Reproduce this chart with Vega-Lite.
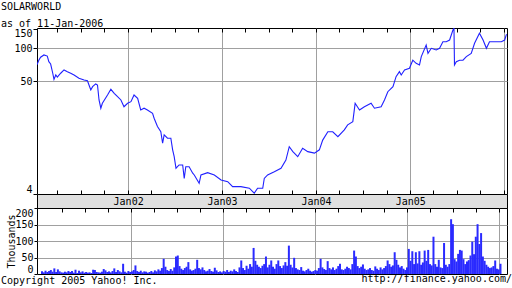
{
"$schema": "https://vega.github.io/schema/vega-lite/v6.json",
"padding": {"left": 0, "top": 1, "right": 0, "bottom": 0},
"background": "white",
"bounds": "flush",
"spacing": 0,
"config": {
  "font": "DejaVu Sans Mono",
  "axis": {"labelFont": "DejaVu Sans Mono", "labelFontSize": 10, "labelColor": "black", "titleFont": "DejaVu Sans Mono", "titleFontSize": 10, "titleFontWeight": "normal", "titleColor": "black", "tickColor": "black", "gridColor": "#a0a0a0", "domain": false, "labelOverlap": false},
  "title": {"font": "DejaVu Sans Mono", "fontSize": 10, "fontWeight": "normal", "color": "black", "subtitleFont": "DejaVu Sans Mono", "subtitleFontSize": 10, "subtitleColor": "black", "subtitleFontWeight": "normal"},
  "view": {"stroke": "black"}
},
"title": {"text": "http://finance.yahoo.com/", "orient": "bottom", "anchor": "end", "frame": "bounds", "offset": 0, "dy": -12, "dx": 2},
"datasets": {
"price": [
{"d":"2001-01-12","p":71},{"d":"2001-01-19","p":78},{"d":"2001-01-26","p":83},{"d":"2001-02-08","p":87},{"d":"2001-02-21","p":85},{"d":"2001-02-27","p":75.6},{"d":"2001-03-06","p":72},{"d":"2001-03-14","p":59.7},{"d":"2001-03-19","p":52.3},{"d":"2001-03-26","p":57.3},{"d":"2001-04-01","p":54.9},{"d":"2001-04-14","p":59.4},{"d":"2001-04-27","p":63.6},{"d":"2001-05-10","p":61.4},{"d":"2001-05-23","p":59.4},{"d":"2001-06-05","p":57.3},{"d":"2001-06-24","p":53.5},{"d":"2001-07-14","p":51.6},{"d":"2001-07-27","p":50.8},{"d":"2001-08-02","p":46.5},{"d":"2001-08-09","p":41.9},{"d":"2001-08-16","p":44.9},{"d":"2001-08-28","p":47.5},{"d":"2001-09-04","p":46.5},{"d":"2001-09-10","p":34},{"d":"2001-09-17","p":28.6},{"d":"2001-09-23","p":31.7},{"d":"2001-10-13","p":37.7},{"d":"2001-10-26","p":42.5},{"d":"2001-11-08","p":39.1},{"d":"2001-11-21","p":36.4},{"d":"2001-12-04","p":34},{"d":"2001-12-16","p":29.5},{"d":"2001-12-30","p":31.7},
{"d":"2002-01-12","p":32.8},{"d":"2002-01-24","p":37.7},{"d":"2002-02-07","p":35.2},{"d":"2002-02-19","p":27.6},{"d":"2002-03-04","p":28.6},{"d":"2002-03-17","p":27.6},{"d":"2002-04-06","p":25.7},{"d":"2002-04-12","p":23.2},{"d":"2002-04-25","p":19.5},{"d":"2002-05-08","p":17.5},{"d":"2002-05-15","p":13.8},{"d":"2002-05-21","p":16.4},{"d":"2002-06-03","p":15.3},{"d":"2002-06-16","p":15.3},{"d":"2002-06-23","p":12.0},{"d":"2002-06-29","p":10.4},{"d":"2002-07-06","p":8.17},{"d":"2002-07-18","p":8.75},{"d":"2002-08-01","p":8.75},{"d":"2002-08-07","p":6.6},{"d":"2002-08-13","p":8.44},{"d":"2002-08-26","p":8.44},{"d":"2002-09-09","p":7.36},{"d":"2002-09-15","p":7.1},{"d":"2002-10-04","p":5.97},{"d":"2002-10-11","p":7.1},{"d":"2002-11-06","p":7.45},{"d":"2002-12-02","p":7.1},{"d":"2002-12-28","p":6.4},
{"d":"2003-01-23","p":6.17},{"d":"2003-02-11","p":5.56},{"d":"2003-03-15","p":5.56},{"d":"2003-04-17","p":5.38},{"d":"2003-05-06","p":4.85},{"d":"2003-05-19","p":5.38},{"d":"2003-06-08","p":5.38},{"d":"2003-06-14","p":6.6},{"d":"2003-06-27","p":7.1},{"d":"2003-07-23","p":7.6},{"d":"2003-08-18","p":8.17},{"d":"2003-09-06","p":9.7},{"d":"2003-09-19","p":12.8},{"d":"2003-10-03","p":11.55},{"d":"2003-10-22","p":10.4},{"d":"2003-11-10","p":12.4},{"d":"2003-11-30","p":11.55},{"d":"2003-12-26","p":11.2},
{"d":"2004-01-14","p":12.0},{"d":"2004-01-27","p":14.7},{"d":"2004-02-16","p":17.5},{"d":"2004-03-06","p":17.5},{"d":"2004-03-26","p":15.8},{"d":"2004-04-20","p":18.2},{"d":"2004-05-03","p":20.2},{"d":"2004-05-23","p":21.6},{"d":"2004-06-01","p":31.7},{"d":"2004-06-18","p":27.6},{"d":"2004-07-07","p":29.5},{"d":"2004-08-02","p":31.7},{"d":"2004-08-15","p":28.6},{"d":"2004-09-10","p":29.5},{"d":"2004-09-23","p":34},{"d":"2004-10-06","p":40.4},{"d":"2004-10-26","p":44.9},{"d":"2004-11-07","p":55.3},{"d":"2004-11-20","p":61.4},{"d":"2004-11-27","p":57.3},{"d":"2004-12-10","p":63.6},{"d":"2004-12-29","p":65.9},
{"d":"2005-01-11","p":78},{"d":"2005-01-24","p":73},{"d":"2005-02-06","p":70.6},{"d":"2005-02-13","p":84},{"d":"2005-03-04","p":107},{"d":"2005-03-11","p":90},{"d":"2005-03-24","p":100},{"d":"2005-04-12","p":96.5},{"d":"2005-04-25","p":100},{"d":"2005-05-08","p":114.8},{"d":"2005-05-21","p":114.8},{"d":"2005-06-03","p":118.9},{"d":"2005-06-16","p":146.5},{"d":"2005-06-20","p":151.8},{"d":"2005-06-22","p":70.6},{"d":"2005-06-29","p":75.6},{"d":"2005-07-12","p":78},{"d":"2005-07-25","p":78},{"d":"2005-08-07","p":84},{"d":"2005-08-26","p":90},{"d":"2005-09-08","p":111},{"d":"2005-09-27","p":136.8},{"d":"2005-10-11","p":118.9},{"d":"2005-10-24","p":100},{"d":"2005-11-05","p":114.8},{"d":"2005-12-01","p":114.8},{"d":"2005-12-21","p":114.8},{"d":"2006-01-03","p":118.9},{"d":"2006-01-09","p":132},{"d":"2006-01-11","p":134}
],
"vol": [
{"d":"2001-01-12","v":8},{"d":"2001-01-19","v":5},{"d":"2001-01-26","v":10},{"d":"2001-02-02","v":6},{"d":"2001-02-09","v":9},{"d":"2001-02-16","v":12},{"d":"2001-02-23","v":7},{"d":"2001-03-02","v":17},{"d":"2001-03-09","v":6},{"d":"2001-03-16","v":14},{"d":"2001-03-23","v":8},{"d":"2001-03-30","v":5},{"d":"2001-04-06","v":4},{"d":"2001-04-13","v":7},{"d":"2001-04-20","v":5},{"d":"2001-04-27","v":9},{"d":"2001-05-04","v":6},{"d":"2001-05-11","v":9},{"d":"2001-05-18","v":4},{"d":"2001-05-25","v":13},{"d":"2001-06-01","v":3},{"d":"2001-06-08","v":10},{"d":"2001-06-15","v":5},{"d":"2001-06-22","v":8},{"d":"2001-06-29","v":4},{"d":"2001-07-06","v":6},{"d":"2001-07-13","v":4},{"d":"2001-07-20","v":5},{"d":"2001-07-27","v":3},{"d":"2001-08-03","v":13},{"d":"2001-08-10","v":12},{"d":"2001-08-17","v":6},{"d":"2001-08-24","v":5},{"d":"2001-08-31","v":4},{"d":"2001-09-07","v":7},{"d":"2001-09-14","v":15},{"d":"2001-09-21","v":11},{"d":"2001-09-28","v":6},{"d":"2001-10-05","v":8},{"d":"2001-10-12","v":5},{"d":"2001-10-19","v":9},{"d":"2001-10-26","v":17},{"d":"2001-11-02","v":6},{"d":"2001-11-09","v":12},{"d":"2001-11-16","v":8},{"d":"2001-11-23","v":5},{"d":"2001-11-30","v":31},{"d":"2001-12-07","v":7},{"d":"2001-12-14","v":4},{"d":"2001-12-21","v":9},{"d":"2001-12-28","v":6},
{"d":"2002-01-04","v":8},{"d":"2002-01-11","v":12},{"d":"2002-01-18","v":26},{"d":"2002-01-25","v":9},{"d":"2002-02-01","v":6},{"d":"2002-02-08","v":10},{"d":"2002-02-15","v":5},{"d":"2002-02-22","v":8},{"d":"2002-03-01","v":7},{"d":"2002-03-08","v":4},{"d":"2002-03-15","v":6},{"d":"2002-03-22","v":9},{"d":"2002-03-29","v":5},{"d":"2002-04-05","v":11},{"d":"2002-04-12","v":8},{"d":"2002-04-19","v":14},{"d":"2002-04-26","v":10},{"d":"2002-05-03","v":18},{"d":"2002-05-10","v":46},{"d":"2002-05-17","v":22},{"d":"2002-05-24","v":12},{"d":"2002-05-31","v":9},{"d":"2002-06-07","v":15},{"d":"2002-06-14","v":10},{"d":"2002-06-21","v":20},{"d":"2002-06-28","v":53},{"d":"2002-07-05","v":56},{"d":"2002-07-12","v":24},{"d":"2002-07-19","v":16},{"d":"2002-07-26","v":12},{"d":"2002-08-02","v":18},{"d":"2002-08-09","v":22},{"d":"2002-08-16","v":36},{"d":"2002-08-23","v":14},{"d":"2002-08-30","v":10},{"d":"2002-09-06","v":12},{"d":"2002-09-13","v":16},{"d":"2002-09-20","v":43},{"d":"2002-09-27","v":18},{"d":"2002-10-04","v":14},{"d":"2002-10-11","v":20},{"d":"2002-10-18","v":12},{"d":"2002-10-25","v":8},{"d":"2002-11-01","v":10},{"d":"2002-11-08","v":15},{"d":"2002-11-15","v":9},{"d":"2002-11-22","v":7},{"d":"2002-11-29","v":19},{"d":"2002-12-06","v":11},{"d":"2002-12-13","v":6},{"d":"2002-12-20","v":8},{"d":"2002-12-27","v":5},
{"d":"2003-01-03","v":9},{"d":"2003-01-10","v":7},{"d":"2003-01-17","v":12},{"d":"2003-01-24","v":6},{"d":"2003-01-31","v":10},{"d":"2003-02-07","v":8},{"d":"2003-02-14","v":14},{"d":"2003-02-21","v":9},{"d":"2003-02-28","v":6},{"d":"2003-03-07","v":20},{"d":"2003-03-14","v":41},{"d":"2003-03-21","v":18},{"d":"2003-03-28","v":12},{"d":"2003-04-04","v":25},{"d":"2003-04-11","v":16},{"d":"2003-04-18","v":30},{"d":"2003-04-25","v":22},{"d":"2003-05-02","v":79},{"d":"2003-05-09","v":40},{"d":"2003-05-16","v":28},{"d":"2003-05-23","v":22},{"d":"2003-05-30","v":18},{"d":"2003-06-06","v":25},{"d":"2003-06-13","v":30},{"d":"2003-06-20","v":53},{"d":"2003-06-27","v":20},{"d":"2003-07-04","v":28},{"d":"2003-07-11","v":41},{"d":"2003-07-18","v":22},{"d":"2003-07-25","v":16},{"d":"2003-08-01","v":30},{"d":"2003-08-08","v":41},{"d":"2003-08-15","v":24},{"d":"2003-08-22","v":18},{"d":"2003-08-29","v":26},{"d":"2003-09-05","v":36},{"d":"2003-09-12","v":25},{"d":"2003-09-19","v":86},{"d":"2003-09-26","v":28},{"d":"2003-10-03","v":20},{"d":"2003-10-10","v":49},{"d":"2003-10-17","v":18},{"d":"2003-10-24","v":14},{"d":"2003-10-31","v":12},{"d":"2003-11-07","v":21},{"d":"2003-11-14","v":10},{"d":"2003-11-21","v":8},{"d":"2003-11-28","v":12},{"d":"2003-12-05","v":16},{"d":"2003-12-12","v":10},{"d":"2003-12-19","v":7},{"d":"2003-12-26","v":9},
{"d":"2004-01-02","v":12},{"d":"2004-01-09","v":10},{"d":"2004-01-16","v":18},{"d":"2004-01-23","v":46},{"d":"2004-01-30","v":20},{"d":"2004-02-06","v":15},{"d":"2004-02-13","v":12},{"d":"2004-02-20","v":39},{"d":"2004-02-27","v":18},{"d":"2004-03-05","v":14},{"d":"2004-03-12","v":20},{"d":"2004-03-19","v":12},{"d":"2004-03-26","v":16},{"d":"2004-04-02","v":24},{"d":"2004-04-09","v":31},{"d":"2004-04-16","v":14},{"d":"2004-04-23","v":12},{"d":"2004-04-30","v":16},{"d":"2004-05-07","v":22},{"d":"2004-05-14","v":18},{"d":"2004-05-21","v":14},{"d":"2004-05-28","v":30},{"d":"2004-06-04","v":71},{"d":"2004-06-11","v":53},{"d":"2004-06-18","v":24},{"d":"2004-06-25","v":18},{"d":"2004-07-02","v":22},{"d":"2004-07-09","v":29},{"d":"2004-07-16","v":16},{"d":"2004-07-23","v":12},{"d":"2004-07-30","v":14},{"d":"2004-08-06","v":18},{"d":"2004-08-13","v":12},{"d":"2004-08-20","v":10},{"d":"2004-08-27","v":23},{"d":"2004-09-03","v":16},{"d":"2004-09-10","v":12},{"d":"2004-09-17","v":20},{"d":"2004-09-24","v":14},{"d":"2004-10-01","v":18},{"d":"2004-10-08","v":24},{"d":"2004-10-15","v":41},{"d":"2004-10-22","v":30},{"d":"2004-10-29","v":22},{"d":"2004-11-05","v":26},{"d":"2004-11-12","v":66},{"d":"2004-11-19","v":43},{"d":"2004-11-26","v":28},{"d":"2004-12-03","v":20},{"d":"2004-12-10","v":24},{"d":"2004-12-17","v":16},{"d":"2004-12-24","v":12},{"d":"2004-12-31","v":20},
{"d":"2005-01-07","v":76},{"d":"2005-01-14","v":40},{"d":"2005-01-21","v":69},{"d":"2005-01-28","v":30},{"d":"2005-02-04","v":66},{"d":"2005-02-11","v":32},{"d":"2005-02-18","v":69},{"d":"2005-02-25","v":28},{"d":"2005-03-04","v":35},{"d":"2005-03-11","v":71},{"d":"2005-03-18","v":40},{"d":"2005-03-25","v":73},{"d":"2005-04-01","v":30},{"d":"2005-04-08","v":26},{"d":"2005-04-15","v":113},{"d":"2005-04-22","v":30},{"d":"2005-04-29","v":22},{"d":"2005-05-06","v":43},{"d":"2005-05-13","v":20},{"d":"2005-05-20","v":18},{"d":"2005-05-27","v":94},{"d":"2005-06-03","v":28},{"d":"2005-06-10","v":22},{"d":"2005-06-17","v":30},{"d":"2005-06-24","v":166},{"d":"2005-07-01","v":151},{"d":"2005-07-08","v":45},{"d":"2005-07-15","v":38},{"d":"2005-07-22","v":61},{"d":"2005-07-29","v":73},{"d":"2005-08-05","v":71},{"d":"2005-08-12","v":45},{"d":"2005-08-19","v":30},{"d":"2005-08-26","v":38},{"d":"2005-09-02","v":42},{"d":"2005-09-09","v":56},{"d":"2005-09-16","v":98},{"d":"2005-09-23","v":60},{"d":"2005-09-30","v":113},{"d":"2005-10-07","v":151},{"d":"2005-10-14","v":91},{"d":"2005-10-21","v":124},{"d":"2005-10-28","v":53},{"d":"2005-11-04","v":40},{"d":"2005-11-11","v":28},{"d":"2005-11-18","v":22},{"d":"2005-11-25","v":18},{"d":"2005-12-02","v":20},{"d":"2005-12-09","v":24},{"d":"2005-12-16","v":41},{"d":"2005-12-23","v":16},{"d":"2005-12-30","v":14},{"d":"2006-01-06","v":31}
]
},
"vconcat": [
{
  "width": 470, "height": 166,
  "title": {"text": "SOLARWORLD", "subtitle": "as of 11-Jan-2006", "subtitlePadding": 7, "anchor": "start", "frame": "group", "dx": -36, "offset": -1},
  "data": {"name": "price"},
  "mark": {"type": "line", "color": "#2020ff", "strokeWidth": 1.1, "clip": true},
  "encoding": {
    "x": {"field": "d", "type": "temporal",
      "scale": {"domain": [{"year": 2001, "month": 1, "date": 12, "utc": true}, {"year": 2006, "month": 1, "date": 12, "utc": true}]},
      "axis": {"orient": "top", "title": null, "labels": false, "tickSize": -4, "grid": true,
        "gridOpacity": {"condition": {"test": "utcmonth(datum.value) == 0", "value": 1}, "value": 0},
        "values": [{"year":2001,"month":4,"date":1,"utc":true},{"year":2001,"month":7,"date":1,"utc":true},{"year":2001,"month":10,"date":1,"utc":true},{"year":2002,"month":1,"date":1,"utc":true},{"year":2002,"month":4,"date":1,"utc":true},{"year":2002,"month":7,"date":1,"utc":true},{"year":2002,"month":10,"date":1,"utc":true},{"year":2003,"month":1,"date":1,"utc":true},{"year":2003,"month":4,"date":1,"utc":true},{"year":2003,"month":7,"date":1,"utc":true},{"year":2003,"month":10,"date":1,"utc":true},{"year":2004,"month":1,"date":1,"utc":true},{"year":2004,"month":4,"date":1,"utc":true},{"year":2004,"month":7,"date":1,"utc":true},{"year":2004,"month":10,"date":1,"utc":true},{"year":2005,"month":1,"date":1,"utc":true},{"year":2005,"month":4,"date":1,"utc":true},{"year":2005,"month":7,"date":1,"utc":true},{"year":2005,"month":10,"date":1,"utc":true},{"year":2006,"month":1,"date":1,"utc":true}]}},
    "y": {"field": "p", "type": "quantitative",
      "scale": {"type": "log", "domain": [4.77, 152.8], "nice": false},
      "axis": {"title": null, "values": [4.77, 50, 100, 150], "labelExpr": "'' + floor(datum.value)", "labelFlush": true, "tickSize": 4, "labelPadding": 1, "grid": true,
        "gridOpacity": {"condition": {"test": "datum.value > 10 && datum.value < 120", "value": 1}, "value": 0}}}
  }
},
{
  "width": 470, "height": 14,
  "view": {"fill": "#e0e0e0", "stroke": "black"},
  "data": {"name": "price"},
  "mark": {"type": "point", "opacity": 0},
  "encoding": {
    "x": {"field": "d", "type": "temporal",
      "scale": {"domain": [{"year": 2001, "month": 1, "date": 12, "utc": true}, {"year": 2006, "month": 1, "date": 12, "utc": true}]},
      "axis": {"orient": "top", "title": null, "tickSize": 4, "grid": false, "labelFlush": false, "labelBaseline": "middle", "labelPadding": -11,
        "labelExpr": "utcmonth(datum.value) == 0 && utcyear(datum.value) < 2006 ? utcFormat(datum.value, '%b%y') : ''",
        "values": [{"year":2001,"month":4,"date":1,"utc":true},{"year":2001,"month":7,"date":1,"utc":true},{"year":2001,"month":10,"date":1,"utc":true},{"year":2002,"month":1,"date":1,"utc":true},{"year":2002,"month":4,"date":1,"utc":true},{"year":2002,"month":7,"date":1,"utc":true},{"year":2002,"month":10,"date":1,"utc":true},{"year":2003,"month":1,"date":1,"utc":true},{"year":2003,"month":4,"date":1,"utc":true},{"year":2003,"month":7,"date":1,"utc":true},{"year":2003,"month":10,"date":1,"utc":true},{"year":2004,"month":1,"date":1,"utc":true},{"year":2004,"month":4,"date":1,"utc":true},{"year":2004,"month":7,"date":1,"utc":true},{"year":2004,"month":10,"date":1,"utc":true},{"year":2005,"month":1,"date":1,"utc":true},{"year":2005,"month":4,"date":1,"utc":true},{"year":2005,"month":7,"date":1,"utc":true},{"year":2005,"month":10,"date":1,"utc":true},{"year":2006,"month":1,"date":1,"utc":true}]}}
  }
},
{
  "width": 470, "height": 66,
  "title": {"text": "Copyright 2005 Yahoo! Inc.", "orient": "bottom", "anchor": "start", "frame": "group", "dx": -36, "offset": 1},
  "data": {"name": "vol"},
  "mark": {"type": "bar", "color": "#2a2aff", "width": 2, "clip": true},
  "encoding": {
    "x": {"field": "d", "type": "temporal",
      "scale": {"domain": [{"year": 2001, "month": 1, "date": 12, "utc": true}, {"year": 2006, "month": 1, "date": 12, "utc": true}]},
      "axis": {"orient": "top", "title": null, "labels": false, "tickSize": -4, "grid": true,
        "gridOpacity": {"condition": {"test": "utcmonth(datum.value) == 0", "value": 1}, "value": 0},
        "values": [{"year":2001,"month":4,"date":1,"utc":true},{"year":2001,"month":7,"date":1,"utc":true},{"year":2001,"month":10,"date":1,"utc":true},{"year":2002,"month":1,"date":1,"utc":true},{"year":2002,"month":4,"date":1,"utc":true},{"year":2002,"month":7,"date":1,"utc":true},{"year":2002,"month":10,"date":1,"utc":true},{"year":2003,"month":1,"date":1,"utc":true},{"year":2003,"month":4,"date":1,"utc":true},{"year":2003,"month":7,"date":1,"utc":true},{"year":2003,"month":10,"date":1,"utc":true},{"year":2004,"month":1,"date":1,"utc":true},{"year":2004,"month":4,"date":1,"utc":true},{"year":2004,"month":7,"date":1,"utc":true},{"year":2004,"month":10,"date":1,"utc":true},{"year":2005,"month":1,"date":1,"utc":true},{"year":2005,"month":4,"date":1,"utc":true},{"year":2005,"month":7,"date":1,"utc":true},{"year":2005,"month":10,"date":1,"utc":true},{"year":2006,"month":1,"date":1,"utc":true}]}},
    "y": {"field": "v", "type": "quantitative",
      "scale": {"domain": [0, 200], "nice": false},
      "axis": {"title": "Thousands", "titleX": -23, "titleY": 33, "titleAngle": -90, "titleBaseline": "alphabetic", "titleAlign": "center",
        "values": [0, 50, 100, 150, 200], "labelFlush": true, "tickSize": 3, "labelPadding": 1, "grid": true,
        "gridOpacity": {"condition": {"test": "datum.value > 0 && datum.value < 200", "value": 1}, "value": 0}}}
  }
}
]
}
